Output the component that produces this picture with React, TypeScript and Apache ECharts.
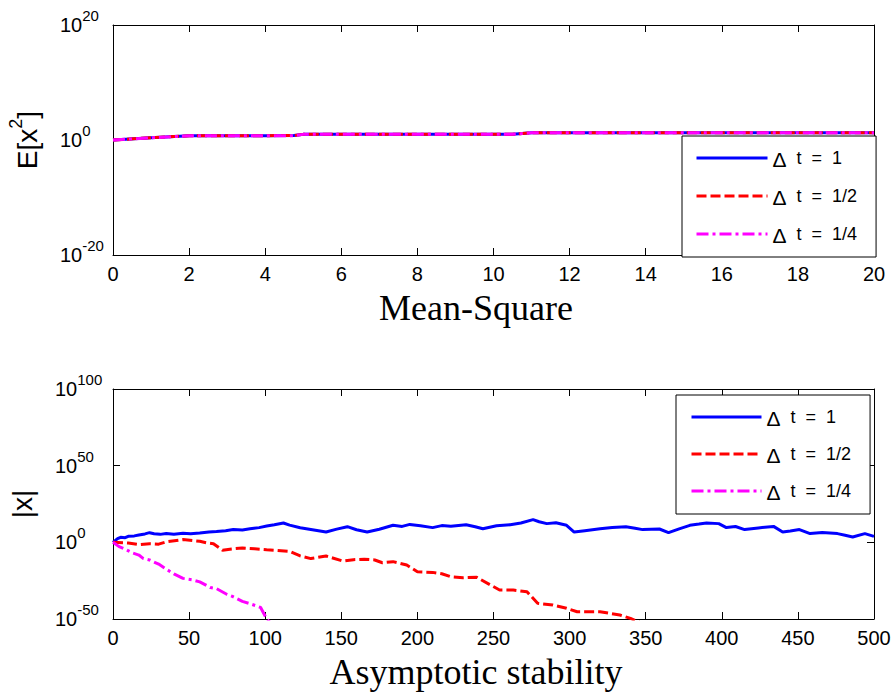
import React, { useEffect, useRef } from 'react';
import * as echarts from 'echarts';

const SERIES_NAMES = ['Δ t = 1', 'Δ t = 1/2', 'Δ t = 1/4'];
const COLORS = ['#0000ff', '#ff0000', '#ff00ff'];
const DASHES: any[] = ['solid', [10, 4], [12, 4, 3, 4]];

// Top panel (Mean-Square): time and log10 E[x^2] (the three curves coincide)
const MS_T = [0, 1, 2, 3, 4, 4.75, 5, 6, 8, 10, 10.5, 11, 12, 14, 16, 18, 20];
const MS_BLUE = [0, 0.4, 0.72, 0.72, 0.75, 0.78, 0.98, 1.0, 1.0, 1.0, 1.02, 1.25, 1.25, 1.25, 1.25, 1.25, 1.25];
const MS_RED = [0, 0.4, 0.72, 0.72, 0.75, 0.78, 0.98, 1.0, 1.0, 1.0, 1.02, 1.25, 1.25, 1.25, 1.25, 1.25, 1.25];
const MS_MAGENTA = [0, 0.38, 0.72, 0.72, 0.75, 0.76, 0.98, 1.0, 1.0, 1.0, 1.0, 1.25, 1.25, 1.25, 1.25, 1.25, 1.25];

// Bottom panel (Asymptotic stability): time and log10 |x|
const AS_BLUE_T = [0, 3, 5, 8, 10, 14, 17, 21, 24, 27, 31, 35, 40, 46, 51, 57, 63, 68, 74, 79, 85, 90, 96, 101, 106, 112, 116, 123, 130, 140, 147, 154, 160, 167, 175, 184, 190, 195, 202, 210, 216, 222, 232, 238, 243, 252, 261, 268, 276, 280, 285, 291, 298, 303, 310, 320, 328, 337, 343, 348, 359, 365, 372, 379, 385, 390, 398, 403, 409, 415, 424, 434, 440, 445, 451, 458, 466, 476, 481, 486, 494, 500];
const AS_BLUE = [0, 2.4, 3.3, 3.0, 3.9, 4.2, 4.8, 5.5, 6.3, 5.6, 5.2, 5.8, 5.2, 5.9, 5.6, 6.1, 6.8, 7.0, 7.6, 8.3, 8.0, 8.8, 9.6, 10.6, 11.5, 12.6, 11.2, 9.5, 8.4, 6.7, 8.6, 10.2, 8.2, 6.7, 8.5, 11.1, 10.4, 11.7, 10.8, 9.6, 10.9, 10.5, 11.5, 10.2, 8.9, 10.8, 11.5, 12.6, 14.8, 13.4, 12.2, 12.8, 11.1, 6.7, 7.6, 8.9, 9.6, 10.1, 9.2, 8.3, 8.7, 6.3, 8.8, 11.1, 11.9, 12.6, 12.2, 9.6, 10.3, 8.3, 9.4, 10.4, 6.7, 7.4, 8.3, 5.7, 6.4, 5.7, 4.6, 3.5, 5.7, 3.9];

const AS_RED_T = [0, 10, 17, 24, 30, 35, 46, 57, 62, 66, 72, 78, 85, 93, 101, 108, 116, 123, 130, 140, 151, 158, 165, 172, 177, 184, 193, 200, 210, 216, 222, 230, 239, 248, 254, 263, 272, 279, 289, 298, 305, 320, 333, 340, 348];
const AS_RED = [0, -0.5, -1.5, -0.9, -1.2, 0.3, 1.8, 0.7, -0.4, -0.9, -5.2, -4.3, -3.7, -4.2, -4.8, -5.3, -5.9, -8.9, -10.6, -8.9, -12.2, -11.3, -11.0, -11.5, -13.3, -12.6, -14.8, -19.2, -19.6, -20.5, -22.4, -23.1, -22.8, -27.8, -31.1, -31.1, -32.2, -39.8, -40.9, -43.0, -45.3, -45.3, -47.4, -49.6, -53];

const AS_MAGENTA_T = [0, 4, 7, 13, 17, 20, 24, 30, 35, 40, 46, 52, 57, 64, 68, 75, 79, 85, 90, 97, 101, 104];
const AS_MAGENTA = [0, -2.8, -4, -7, -8.3, -10.6, -11.5, -14.2, -17.5, -20.6, -23.5, -24.4, -25.8, -29.5, -30.2, -34, -35.5, -38.5, -40, -42.5, -50, -53];

const MS_X_TICKS = { min: 0, max: 20, interval: 2 };
const MS_Y_TICKS = { min: -20, max: 20, interval: 20 };
const AS_X_TICKS = { min: 0, max: 500, interval: 50 };
const AS_Y_TICKS = { min: -50, max: 100, interval: 50 };

const SANS = 'Arial, "Liberation Sans", Helvetica, sans-serif';
const SERIF = '"Times New Roman", "Liberation Serif", Times, serif';

const pairs = (t: number[], v: number[]) => t.map((x, i) => [x, v[i]]);

export default function App() {
  const ref = useRef<HTMLDivElement>(null);
  useEffect(() => {
    document.body.style.margin = '0';
    const chart = echarts.init(ref.current!, null, { renderer: 'svg' });

    const axisLine = { show: true, onZero: false, lineStyle: { color: '#000', width: 1 } };
    const axisTick = { show: true, inside: true, length: 7, lineStyle: { color: '#000', width: 1 } };
    const xLabel = { fontSize: 20, color: '#000', fontFamily: SANS, margin: 9, showMinLabel: true, showMaxLabel: true };
    const yLabel = (margin: number) => ({
      align: 'left',
      margin,
      color: '#000',
      fontFamily: SANS,
      showMinLabel: true,
      showMaxLabel: true,
      formatter: (v: number) => `{b|10}{s|${v}}`,
      rich: {
        b: { fontSize: 20, lineHeight: 40, fontFamily: SANS, color: '#000' },
        s: { fontSize: 15, lineHeight: 15, padding: [0, 0, 19, 0], fontFamily: SANS, color: '#000' },
      },
    });
    const xTitle = (name: string) => ({
      name,
      nameLocation: 'middle',
      nameGap: 53,
      nameTextStyle: { fontSize: 36, fontFamily: SERIF, color: '#000', verticalAlign: 'middle', padding: [0, 35, 0, 0] },
    });
    const yTitle = (name: string, gap: number) => ({
      name,
      nameLocation: 'middle',
      nameRotate: 90,
      nameGap: gap,
      nameTextStyle: {
        fontSize: 28,
        lineHeight: 44,
        fontFamily: SANS,
        color: '#000',
        verticalAlign: 'middle',
        align: 'center',
        rich: { s: { fontSize: 18, lineHeight: 18, padding: [0, 0, 22, 0], fontFamily: SANS, color: '#000' } },
      },
    });
    const mirror = (gridIndex: number, position: string, ticks: any) => ({
      type: 'value',
      gridIndex,
      position,
      ...ticks,
      axisLine,
      axisTick,
      axisLabel: { show: false },
      splitLine: { show: false },
    });

    const seriesFor = (xi: number, yi: number, data: number[][][]) =>
      data.map((d, i) => ({
        type: 'line',
        name: SERIES_NAMES[i],
        xAxisIndex: xi,
        yAxisIndex: yi,
        data: d,
        symbol: 'none',
        showSymbol: false,
        clip: true,
        lineStyle: { color: COLORS[i], width: 3, type: DASHES[i] },
        itemStyle: { color: COLORS[i] },
        z: 2 + i,
      }));

    const legend = (left: number, top: number, gap: number, padding: number[], itemWidth: number) => ({
      orient: 'vertical',
      left,
      top,
      data: SERIES_NAMES,
      selectedMode: false,
      itemWidth,
      itemHeight: 14,
      itemGap: gap,
      padding,
      backgroundColor: '#fff',
      borderColor: '#000',
      borderWidth: 1,
      borderRadius: 0,
      formatter: (n: string) => n.replace(/ /g, '  ').replace('Δ', '{d|Δ}'),
      textStyle: {
        fontSize: 18,
        lineHeight: 20,
        color: '#000',
        fontFamily: SANS,
        rich: { d: { fontSize: 21, lineHeight: 20, padding: [3, 0, 0, 0], fontFamily: SANS, color: '#000' } },
      },
      lineStyle: { width: 3 },
      itemStyle: { opacity: 0 },
    });

    chart.setOption({
      animation: false,
      backgroundColor: '#fff',
      grid: [
        { left: 113, right: 22, top: 25, height: 230, containLabel: false, outerBoundsMode: 'none' },
        { left: 113, right: 22, top: 389, height: 230, containLabel: false, outerBoundsMode: 'none' },
      ],
      legend: [
        legend(682, 136, 14, [10, 19, 11, 13], 71),
        legend(676, 395, 13, [10, 19, 11, 14], 70),
      ],
      xAxis: [
        { type: 'value', gridIndex: 0, position: 'bottom', ...MS_X_TICKS, axisLine, axisTick, axisLabel: xLabel, splitLine: { show: false }, ...xTitle('Mean-Square') },
        mirror(0, 'top', MS_X_TICKS),
        { type: 'value', gridIndex: 1, position: 'bottom', ...AS_X_TICKS, axisLine, axisTick, axisLabel: xLabel, splitLine: { show: false }, ...xTitle('Asymptotic stability') },
        mirror(1, 'top', AS_X_TICKS),
      ],
      yAxis: [
        { type: 'value', gridIndex: 0, position: 'left', ...MS_Y_TICKS, axisLine, axisTick, axisLabel: yLabel(53), splitLine: { show: false }, ...yTitle('E[x{s|2}]', 82) },
        mirror(0, 'right', MS_Y_TICKS),
        { type: 'value', gridIndex: 1, position: 'left', ...AS_Y_TICKS, axisLine, axisTick, axisLabel: yLabel(58), splitLine: { show: false }, ...yTitle('|x|', 83) },
        mirror(1, 'right', AS_Y_TICKS),
      ],
      series: [
        ...seriesFor(0, 0, [pairs(MS_T, MS_BLUE), pairs(MS_T, MS_RED), pairs(MS_T, MS_MAGENTA)]),
        ...seriesFor(2, 2, [pairs(AS_BLUE_T, AS_BLUE), pairs(AS_RED_T, AS_RED), pairs(AS_MAGENTA_T, AS_MAGENTA)]),
      ],
    });
    return () => chart.dispose();
  }, []);
  return <div ref={ref} style={{ position: 'fixed', left: 0, top: 0, width: 896, height: 695 }} />;
}
